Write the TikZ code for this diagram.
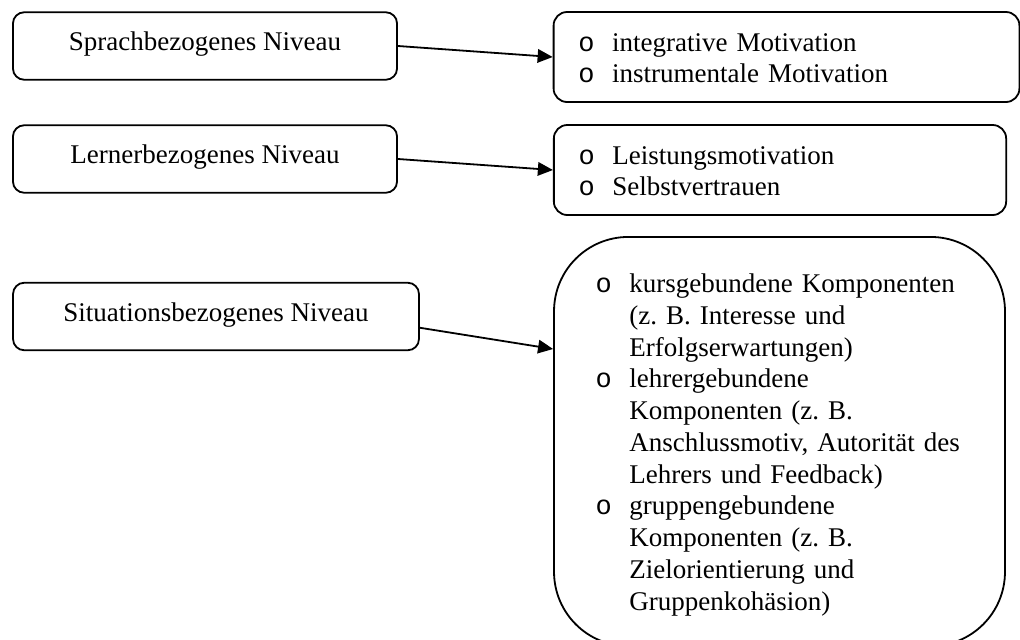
\documentclass[tikz,border=0pt]{standalone}
\usepackage{fontspec}
\setmainfont{Liberation Serif}
\newfontfamily\bulletfont{Liberation Mono}
\usetikzlibrary{arrows.meta}
\frenchspacing
\newcommand{\listbul}{{\bulletfont o}}

\begin{document}
\begin{tikzpicture}[x=0.4444pt,y=-0.4444pt,>={Triangle[length=6.7pt,width=6pt]},
  every node/.style={font=\fontsize{12}{14.1}\selectfont},
  niveau/.style={draw,thick,rounded corners=5pt,minimum height=30pt,inner sep=0pt,text depth=4pt},
  liste/.style={draw,thick,rounded corners=6pt,align=left,text width=#1,inner xsep=11pt,inner ysep=0pt,minimum height=40pt}]
 \useasboundingbox (0,0) rectangle (1020,639);

 \node[niveau,minimum width=170.7pt] (sprach) at (205,46) {Sprachbezogenes Niveau};
 \node[niveau,minimum width=170.7pt] (lerner) at (205,159) {Lernerbezogenes Niveau};
 \node[niveau,minimum width=180.4pt] (situation) at (216,316.5) {Situationsbezogenes Niveau};

 \node[liste=185pt] (integ) at (786.5,57) {\begin{tabular}{@{}p{15pt}@{}l@{}}
  \listbul\rule{0pt}{13pt} & integrative Motivation\\
  \listbul & instrumentale Motivation\end{tabular}};
 \node[liste=179pt] (leistung) at (780,170) {\begin{tabular}{@{}p{15pt}@{}l@{}}
  \listbul\rule{0pt}{13pt} & Leistungsmotivation\\
  \listbul & Selbstvertrauen\end{tabular}};
 \node[liste=163.4pt,inner xsep=18.5pt,minimum height=181.8pt,rounded corners=33pt] (kompon) at (779.5,441.5) {\begin{tabular}{@{}p{15pt}@{}l@{}}
  \listbul\rule{0pt}{13pt} & kursgebundene Komponenten\\
   & (z. B. Interesse und\\
   & Erfolgserwartungen)\\
  \listbul & lehrergebundene\\
   & Komponenten (z. B.\\
   & Anschlussmotiv, Autorität des\\
   & Lehrers und Feedback)\\
  \listbul & gruppengebundene\\
   & Komponenten (z. B.\\
   & Zielorientierung und\\
   & Gruppenkohäsion)\end{tabular}};

 \draw[thick,->] (sprach.east) -- (integ.west);
 \draw[thick,->] (lerner.east) -- (leistung.west);
 \draw[thick,->] ([yshift=-5pt]situation.east) -- ([yshift=-50.2pt]kompon.north west); % arrow hits below the corner
\end{tikzpicture}
\end{document}
